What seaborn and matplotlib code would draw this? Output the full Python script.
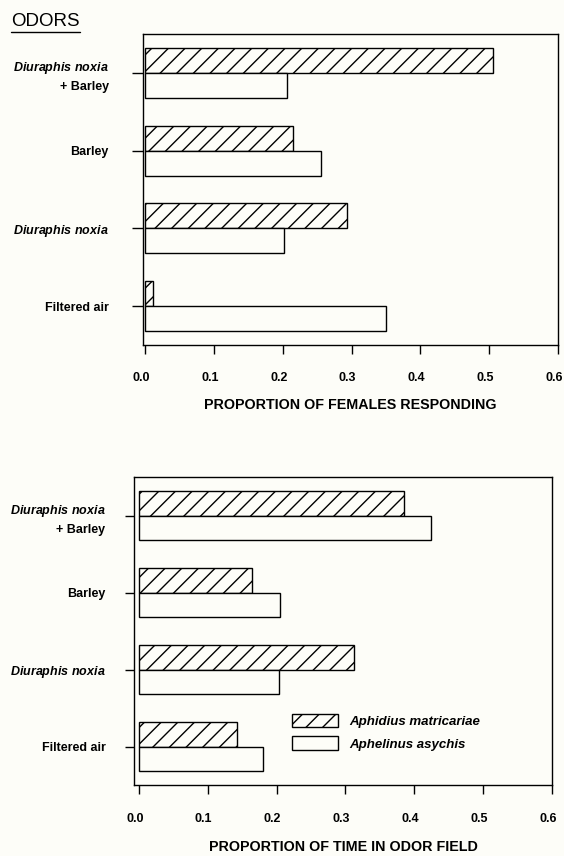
import matplotlib
matplotlib.use("Agg")
import matplotlib.pyplot as plt
from matplotlib.lines import Line2D
from matplotlib.transforms import ScaledTranslation
import seaborn as sns
import pandas as pd

# Odor treatments, top to bottom
categories = ["Diuraphis noxia + Barley", "Barley", "Diuraphis noxia", "Filtered air"]
category_labels = [
    r"$\mathit{Diuraphis\ noxia}$" + "\n+ Barley",
    "Barley",
    r"$\mathit{Diuraphis\ noxia}$",
    "Filtered air",
]
species = ["Aphidius matricariae", "Aphelinus asychis"]

# Proportion of females responding
females_aphidius = [0.506, 0.215, 0.293, 0.012]
females_aphelinus = [0.206, 0.256, 0.202, 0.350]

# Proportion of time in odor field
time_aphidius = [0.385, 0.165, 0.312, 0.142]
time_aphelinus = [0.425, 0.205, 0.203, 0.181]

x_ticks = [0.0, 0.1, 0.2, 0.3, 0.4, 0.5, 0.6]
x_tick_labels = ["0.0", "0.1", "0.2", "0.3", "0.4", "0.5", "0.6"]

sns.set_theme(style="white")
plt.rcParams.update({
    "font.family": ["Liberation Sans", "DejaVu Sans"],
    "font.weight": "bold",
    "mathtext.fontset": "custom",
    "mathtext.it": "Liberation Sans:italic:bold",
    "mathtext.rm": "Liberation Sans:bold",
    "mathtext.bf": "Liberation Sans:bold",
    "hatch.linewidth": 1.0,
    "hatch.color": "black",
    "text.color": "black",
    "axes.labelcolor": "black",
    "xtick.color": "black",
    "ytick.color": "black",
})

BG = "#fdfdf8"
W, H = 564, 856
fig = plt.figure(figsize=(W / 100, H / 100), dpi=100, facecolor=BG)


def long_table(a, b):
    return pd.DataFrame({
        "odor": categories * 2,
        "species": [species[0]] * len(categories) + [species[1]] * len(categories),
        "value": list(a) + list(b),
    })


def panel(px_box, data, x_left, xlabel, ytick_len, ypad, xtick_len, xpad, labelpad):
    left, top, right, bottom = px_box
    ax = fig.add_axes([left / W, 1 - bottom / H, (right - left) / W, (bottom - top) / H],
                      facecolor=BG)
    sns.barplot(data=data, x="value", y="odor", hue="species",
                order=categories, hue_order=species,
                palette=[BG, BG], saturation=1, width=0.645,
                edgecolor="black", linewidth=1.0, errorbar=None,
                legend=False, ax=ax)
    for bar in ax.containers[0]:
        bar.set_hatch("//")
    ax.set_xlim(x_left, 0.6)
    ax.set_ylim(3.5, -0.5)
    ax.set_xticks(x_ticks)
    ax.set_xticklabels(x_tick_labels)
    ax.set_yticks(range(len(categories)))
    ax.set_yticklabels(category_labels, ha="right", multialignment="right",
                       linespacing=1.55)
    ax.set_ylabel("")
    ax.set_xlabel(xlabel, fontsize=10.3, fontweight="bold", labelpad=labelpad)
    ax.tick_params(axis="y", left=True, length=ytick_len, width=1, direction="out",
                   pad=ypad, labelsize=9, colors="black")
    ax.tick_params(axis="x", bottom=True, length=xtick_len, width=1, direction="out",
                   pad=xpad, labelsize=9, colors="black")
    # tick numerals sit a little left of their ticks
    shift = ScaledTranslation(-4 / 100, 0, fig.dpi_scale_trans)
    for lab in ax.get_xticklabels():
        lab.set_transform(lab.get_transform() + shift)
    for s in ax.spines.values():
        s.set_visible(True)
        s.set_color("black")
        s.set_linewidth(1.0)
    return ax


ax1 = panel((143, 34, 558, 345), long_table(females_aphidius, females_aphelinus),
            -0.003, "PROPORTION OF FEMALES RESPONDING",
            ytick_len=8, ypad=16.5, xtick_len=6.5, xpad=13, labelpad=10)

ax2 = panel((134, 477, 552, 785), long_table(time_aphidius, time_aphelinus),
            -0.007, "PROPORTION OF TIME IN ODOR FIELD",
            ytick_len=6.5, ypad=14, xtick_len=6.5, xpad=13.5, labelpad=11)

leg = ax2.legend(handles=list(ax2.containers), labels=species,
                 loc="upper left", bbox_to_anchor=(0.378, 0.232),
                 frameon=False, borderpad=0, borderaxespad=0,
                 handlelength=3.5, handleheight=1.2, handletextpad=0.85,
                 labelspacing=0.65,
                 prop={"family": "Liberation Sans", "weight": "bold",
                       "style": "italic", "size": 9.5})

# Section heading with underline
title = fig.text(11 / W, 1 - 21 / H, "ODORS", fontsize=13.5, fontweight="normal",
                 ha="left", va="center")
fig.canvas.draw()
bb = title.get_window_extent()
fig.add_artist(Line2D([bb.x0 / W, bb.x1 / W], [(bb.y0 - 2) / H] * 2,
                      transform=fig.transFigure, color="black", lw=1.0))

fig.savefig("out.png", dpi=100, facecolor=BG)
